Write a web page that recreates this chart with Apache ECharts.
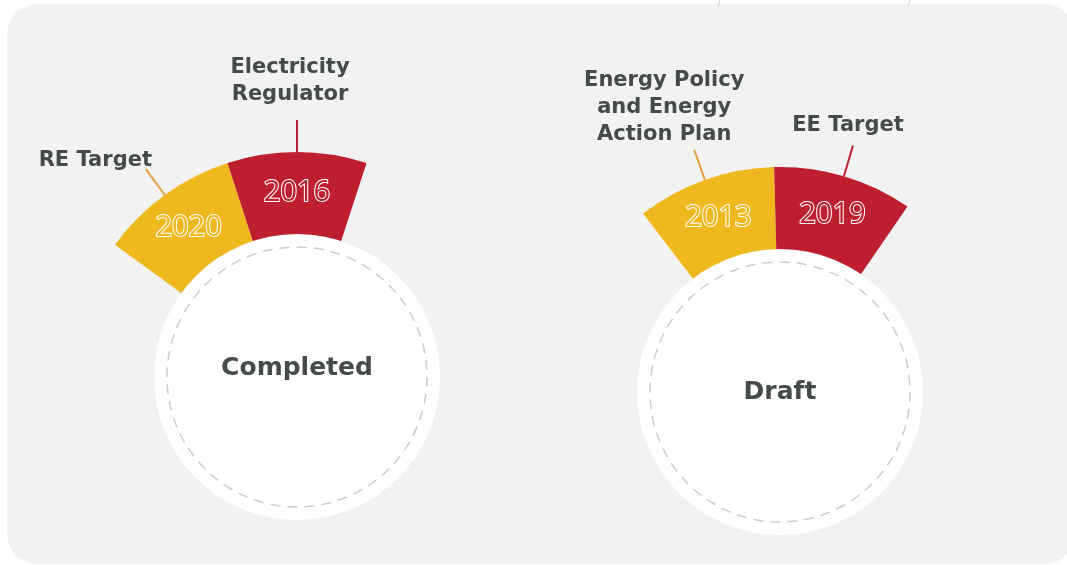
<!DOCTYPE html>
<html>
<head>
<meta charset="utf-8">
<script src="https://cdn.jsdelivr.net/npm/echarts@6/dist/echarts.min.js"></script>
<style>
  html, body { margin: 0; padding: 0; background: #ffffff; }
  #main { width: 1067px; height: 565px; }
</style>
</head>
<body>
<div id="main"></div>
<script>
// data
var leftNames = ['RE Target', 'Electricity\nRegulator'];
var leftYears = ['2020', '2016'];
var rightNames = ['Energy Policy\nand Energy\nAction Plan', 'EE Target'];
var rightYears = ['2013', '2019'];
var sliceShare = [1, 1];            // every milestone gets the same slot
var statusLabels = ['Completed', 'Draft'];

var YELLOW = '#f0b81f';
var YELLOW_LINE = '#e2a046';
var RED = '#be1f2f';
var TEXT = '#454b4a';
var FONT = '"Open Sans", "Noto Sans", sans-serif';
var BOLD_FONT = '"DejaVu Sans", "Open Sans", sans-serif';

var chart = echarts.init(document.getElementById('main'));

// builds the 4 stacked pies of one badge
function badge(names, years, status, center, startAngle, endAngle, offsets, statusShift) {
  var colors = [YELLOW, RED];
  var lineColors = [YELLOW_LINE, RED];
  var sectorData = names.map(function (n, i) {
    return { name: n, value: sliceShare[i], year: years[i], itemStyle: { color: colors[i] } };
  });
  var labelData = names.map(function (n, i) {
    return {
      name: n, value: sliceShare[i],
      labelLine: { lineStyle: { color: lineColors[i] } }
    };
  });
  return [
    {
      type: 'pie', center: center, radius: [138, 225],
      startAngle: startAngle, endAngle: endAngle, clockwise: true,
      silent: true, animation: false,
      itemStyle: { borderWidth: 0 },
      label: {
        position: 'inside',
        formatter: function (p) { return p.data.year; },
        fontFamily: FONT, fontSize: 29, fontWeight: 500,
        color: 'inherit', textBorderColor: '#ffffff', textBorderWidth: 2
      },
      labelLine: { show: false },
      data: sectorData
    },
    {
      type: 'pie', center: center, radius: [138, 225],
      startAngle: startAngle, endAngle: endAngle, clockwise: true,
      silent: true, animation: false, avoidLabelOverlap: false,
      itemStyle: { color: 'rgba(0,0,0,0)', borderWidth: 0 },
      label: {
        position: 'outside', alignTo: 'none',
        formatter: '{b}',
        fontFamily: BOLD_FONT, fontSize: 21, fontWeight: 700,
        color: TEXT, lineHeight: 27
      },
      labelLine: { show: true, length: 32, length2: 0, smooth: false, lineStyle: { width: 2 } },
      labelLayout: function (params) {
        var pts = params.labelLinePoints;
        var o = offsets[params.dataIndex];
        if (!pts) return {};
        var end = pts[pts.length - 1];
        return {
          x: end[0] + o.dx, y: end[1] + o.dy,
          align: o.align, verticalAlign: 'middle',
          labelLinePoints: pts
        };
      },
      data: labelData
    },
    {
      type: 'pie', center: center, radius: [0, 143],
      silent: true, animation: false,
      itemStyle: { color: '#ffffff', borderWidth: 0 },
      label: { show: false }, labelLine: { show: false },
      data: [{ name: status, value: 1 }]
    },
    {
      type: 'pie', center: center, radius: [0, 130],
      silent: true, animation: false,
      itemStyle: { color: '#ffffff', borderColor: '#c9cdd5', borderWidth: 1.5, borderType: [10, 7] },
      label: {
        position: 'center',
        // a blank second line lifts the word a little above the centre
        formatter: statusShift ? '{b}\n ' : '{b}',
        fontFamily: BOLD_FONT, fontSize: 25, fontWeight: 700, color: TEXT,
        lineHeight: statusShift || 30
      },
      labelLine: { show: false },
      data: [{ name: status, value: 1 }]
    }
  ];
}

var series = [].concat(
  badge(leftNames, leftYears, statusLabels[0], [297, 377], 144, 72, [
    { dx: 6, dy: -9, align: 'right' },
    { dx: -7, dy: -39, align: 'center' }
  ], 17),
  badge(rightNames, rightYears, statusLabels[1], [780, 392], 127.5, 55.5, [
    { dx: -30, dy: -42, align: 'center' },
    { dx: -5, dy: -20, align: 'center' }
  ], 0)
);

chart.setOption({
  animation: false,
  graphic: [
    {
      type: 'rect', z: -10, silent: true,
      shape: { x: 7, y: 4, width: 1068, height: 560, r: 30 },
      style: { fill: '#f2f2f2' }
    },
    { type: 'line', silent: true, shape: { x1: 720, y1: 0, x2: 718, y2: 6 }, style: { stroke: '#d2d2d2', lineWidth: 1 } },
    { type: 'line', silent: true, shape: { x1: 910, y1: 0, x2: 908, y2: 6 }, style: { stroke: '#d2d2d2', lineWidth: 1 } }
  ],
  series: series
});
</script>
</body>
</html>
